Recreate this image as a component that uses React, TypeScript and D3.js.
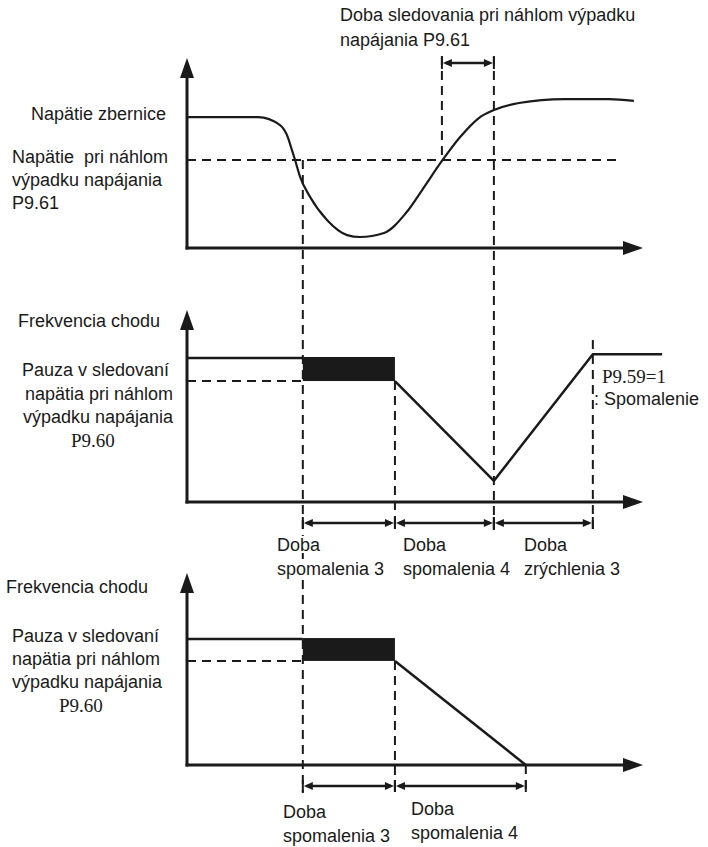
import React from 'react';
import * as d3 from 'd3';

// ---- data (time in % of the horizontal axis, values in % of the vertical axis) ----
const busTime = [0, 15.6, 20.4, 22.1, 23.0, 23.7, 24.8, 27.0, 30.7, 35.1, 37.9, 43.2, 48.0, 52.0, 55.9, 59.9, 64.0, 67.3, 72.8, 82.7, 92.5, 98.0];
const busVoltage = [68.9, 68.9, 64.7, 58.4, 51.6, 46.3, 37.4, 26.8, 14.7, 6.8, 5.8, 7.9, 18.4, 32.1, 45.8, 58.4, 68.4, 72.6, 76.3, 78.4, 78.4, 77.4];
const thresholdVoltage = [46.3];
const thresholdEnd = [94.1];

const eventNames = ['drop', 'pauseEnd', 'track', 'recover', 'stopEnd', 'accelEnd', 'lineEnd'];
const eventTimes = [25.4, 45.6, 55.9, 67.3, 74.3, 89.0, 104.2];

const midLevels = [75, 63]; // running frequency, pause level
const midRampTime = [45.6, 67.3, 89.0, 104.2];
const midRampValue = [63, 11, 77, 77];

const botLevels = [65.6, 54.2];
const botRampTime = [45.6, 74.3];
const botRampValue = [54.2, 0];

const titleLines = ['Doba sledovania pri náhlom výpadku', 'napájania P9.61'];
const topLabels = ['Napätie zbernice', 'Napätie  pri náhlom', 'výpadku napájania', 'P9.61'];
const pauseLabels = ['Pauza v sledovaní', 'napätia pri náhlom', 'výpadku napájania', 'P9.60'];
const freqLabel = 'Frekvencia chodu';
const midSpanLabels = [['Doba', 'spomalenia 3'], ['Doba', 'spomalenia 4'], ['Doba', 'zrýchlenia 3']];
const botSpanLabels = [['Doba', 'spomalenia 3'], ['Doba', 'spomalenia 4']];
const modeLabels = ['P9.59=1', ': Spomalenie'];

const ev = (n: string) => eventTimes[eventNames.indexOf(n)];

const SANS = "'Liberation Sans', Arial, sans-serif";
const SERIF = "'Liberation Serif', 'Times New Roman', serif";
const INK = '#1a1a1a';
const FS = 18;

const x = d3.scaleLinear().domain([0, 100]).range([187, 643]);
const yTop = d3.scaleLinear().domain([0, 100]).range([248, 58]);
const yMid = d3.scaleLinear().domain([0, 100]).range([502, 310]);
const yBot = d3.scaleLinear().domain([0, 100]).range([765, 573]);

function Axes({ y }: { y: d3.ScaleLinear<number, number> }) {
  const x0 = x(0), yb = y(0), ytip = y(100), xtip = x(100);
  return (
    <g>
      <line x1={x0} y1={yb + 1.5} x2={x0} y2={ytip + 16} stroke={INK} strokeWidth={3} />
      <path d={`M${x0},${ytip} L${x0 - 7},${ytip + 20} L${x0 + 7},${ytip + 20} Z`} fill={INK} />
      <line x1={x0 - 1.5} y1={yb} x2={xtip - 16} y2={yb} stroke={INK} strokeWidth={3} />
      <path d={`M${xtip},${yb} L${xtip - 20},${yb - 7} L${xtip - 20},${yb + 7} Z`} fill={INK} />
    </g>
  );
}

function Dashed({ x1, y1, x2, y2 }: { x1: number; y1: number; x2: number; y2: number }) {
  return <line x1={x1} y1={y1} x2={x2} y2={y2} stroke={INK} strokeWidth={2} strokeDasharray="9,6" />;
}

function Span({ a, b, y }: { a: number; b: number; y: number }) {
  const L = 9, H = 4;
  return (
    <g>
      <line x1={a + 4} y1={y} x2={b - 4} y2={y} stroke={INK} strokeWidth={2.5} />
      <path d={`M${a + 1},${y} L${a + 1 + L},${y - H} L${a + 1 + L},${y + H} Z`} fill={INK} />
      <path d={`M${b - 1},${y} L${b - 1 - L},${y - H} L${b - 1 - L},${y + H} Z`} fill={INK} />
      <line x1={a} y1={y - 6} x2={a} y2={y + 6} stroke={INK} strokeWidth={2} />
      <line x1={b} y1={y - 6} x2={b} y2={y + 6} stroke={INK} strokeWidth={2} />
    </g>
  );
}

function T({ x: tx, y: ty, children, serif, size, halo }: any) {
  return (
    <text
      x={tx}
      y={ty}
      fontFamily={serif ? SERIF : SANS}
      fontSize={size ?? FS}
      fill={INK}
      style={{ whiteSpace: 'pre' }}
      stroke={halo ? '#fff' : 'none'}
      strokeWidth={halo ? 4 : 0}
      paintOrder="stroke"
    >
      {children}
    </text>
  );
}

export default function App() {
  const busLine = d3
    .line<number>()
    .x((_, i) => x(busTime[i]))
    .y((d) => yTop(d))
    .curve(d3.curveMonotoneX);

  const midRamp = d3.line<number>().x((_, i) => x(midRampTime[i])).y((d) => yMid(d));
  const botRamp = d3.line<number>().x((_, i) => x(botRampTime[i])).y((d) => yBot(d));

  const xd = x(ev('drop'));
  const xp = x(ev('pauseEnd'));
  const xt = x(ev('track'));
  const xr = x(ev('recover'));
  const xs = x(ev('stopEnd'));
  const xa = x(ev('accelEnd'));

  const thrY = yTop(thresholdVoltage[0]);

  return (
    <svg width={708} height={847} style={{ position: 'absolute', left: 0, top: 0, background: '#fff' }}>
      <rect width={708} height={847} fill="#fff" />

      {/* dashed guides */}
      <Dashed x1={x(0)} y1={thrY} x2={x(thresholdEnd[0])} y2={thrY} />
      <Dashed x1={xd} y1={thrY} x2={xd} y2={yBot(0) + 28} />
      <Dashed x1={xt} y1={56} x2={xt} y2={thrY} />
      <Dashed x1={xr} y1={56} x2={xr} y2={yMid(0) + 28} />
      <Dashed x1={xp} y1={yMid(midLevels[1])} x2={xp} y2={yMid(0) + 28} />
      <Dashed x1={xa} y1={yMid(100) + 30} x2={xa} y2={yMid(0) + 28} />
      <Dashed x1={x(0)} y1={yMid(midLevels[1])} x2={xd} y2={yMid(midLevels[1])} />
      <Dashed x1={xp} y1={yBot(botLevels[1])} x2={xp} y2={yBot(0) + 28} />
      <Dashed x1={xs} y1={yBot(0)} x2={xs} y2={yBot(0) + 28} />
      <Dashed x1={x(0)} y1={yBot(botLevels[1])} x2={xd} y2={yBot(botLevels[1])} />

      {/* top panel */}
      <Axes y={yTop} />
      <path d={busLine(busVoltage) ?? ''} fill="none" stroke={INK} strokeWidth={2.2} />
      <Span a={xt} b={xr} y={63} />
      <T x={340} y={21}>{titleLines[0]}</T>
      <T x={340} y={46}>{titleLines[1]}</T>
      <T x={31} y={120}>{topLabels[0]}</T>
      <T x={12} y={163}>{topLabels[1]}</T>
      <T x={12} y={186}>{topLabels[2]}</T>
      <T x={12} y={209}>{topLabels[3]}</T>

      {/* middle panel */}
      <Axes y={yMid} />
      <line x1={x(0)} y1={yMid(midLevels[0])} x2={xd} y2={yMid(midLevels[0])} stroke={INK} strokeWidth={2.5} />
      <rect x={xd} y={yMid(midLevels[0]) - 1} width={xp - xd} height={yMid(midLevels[1]) - yMid(midLevels[0]) + 1} fill={INK} />
      <path d={midRamp(midRampValue) ?? ''} fill="none" stroke={INK} strokeWidth={2.5} strokeLinejoin="miter" />
      <Span a={xd} b={xp} y={523} />
      <Span a={xp} b={xr} y={523} />
      <Span a={xr} b={xa} y={523} />
      <T x={18} y={327}>{freqLabel}</T>
      <T x={22} y={376}>{pauseLabels[0]}</T>
      <T x={25} y={400}>{pauseLabels[1]}</T>
      <T x={23} y={423}>{pauseLabels[2]}</T>
      <T x={71} y={447} serif size={19}>{pauseLabels[3]}</T>
      <T x={602} y={383} serif size={19}>{modeLabels[0]}</T>
      <T x={594} y={405}>{modeLabels[1]}</T>
      {midSpanLabels.map((lab, i) => {
        const lx = [277, 403, 524][i];
        return (
          <g key={i}>
            <T x={lx} y={551} halo>{lab[0]}</T>
            <T x={lx} y={575} halo>{lab[1]}</T>
          </g>
        );
      })}

      {/* bottom panel */}
      <Axes y={yBot} />
      <line x1={x(0)} y1={yBot(botLevels[0])} x2={xd} y2={yBot(botLevels[0])} stroke={INK} strokeWidth={2.5} />
      <rect x={xd} y={yBot(botLevels[0]) - 1} width={xp - xd} height={yBot(botLevels[1]) - yBot(botLevels[0]) + 1} fill={INK} />
      <path d={botRamp(botRampValue) ?? ''} fill="none" stroke={INK} strokeWidth={2.5} />
      <Span a={xd} b={xp} y={786} />
      <Span a={xp} b={xs} y={786} />
      <T x={6} y={593}>{freqLabel}</T>
      <T x={12} y={642}>{pauseLabels[0]}</T>
      <T x={12} y={665}>{pauseLabels[1]}</T>
      <T x={12} y={688}>{pauseLabels[2]}</T>
      <T x={59} y={712} serif size={19}>{pauseLabels[3]}</T>
      {botSpanLabels.map((lab, i) => {
        const lx = [283, 411][i];
        const ly = [818, 815][i];
        return (
          <g key={i}>
            <T x={lx} y={ly} halo>{lab[0]}</T>
            <T x={lx} y={ly + 24} halo>{lab[1]}</T>
          </g>
        );
      })}
    </svg>
  );
}
